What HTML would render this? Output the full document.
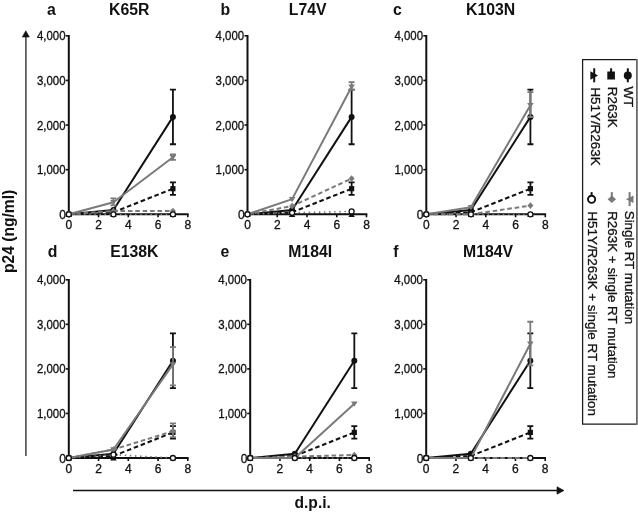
<!DOCTYPE html>
<html><head><meta charset="utf-8"><style>
html,body{margin:0;padding:0;background:#fff;}
svg{display:block;will-change:transform;}
text{font-family:"Liberation Sans", sans-serif;fill:#111;}
.yl,.xl,.lg{stroke:#111;stroke-width:0.3px;}
.t{font-size:15.8px;font-weight:bold;}
.big{font-size:15.6px;font-weight:bold;}
.yl{font-size:12px;text-anchor:end;}
.xl{font-size:12px;text-anchor:middle;}
.lg{font-size:13.4px;}
.ax{fill:none;stroke:#111;stroke-width:2;}
.tk{fill:none;stroke:#111;stroke-width:1.6;}
polyline{fill:none;stroke-width:2;stroke-linejoin:round;}
.l-sol-k{stroke:#111;}
.l-sol-g{stroke:#7a7a7a;}
.l-dash-k{stroke:#111;stroke-dasharray:4.6 2.8;}
.l-dash-g{stroke:#7a7a7a;stroke-dasharray:4.6 2.8;}
.l-dot-k{stroke:#111;stroke-dasharray:1.5 3.6;stroke-width:1.6;}
.l-dot-g{stroke:#7a7a7a;stroke-dasharray:1.5 3.6;stroke-width:1.6;}
</style></head><body>
<svg width="638" height="514" viewBox="0 0 638 514">

<path d="M25.9 37V456" stroke="#5e5e5e" stroke-width="1.8"/>
<path d="M25.8 30.8L29.3 37H22.3Z" fill="#111" stroke="#111" stroke-width="0.6" stroke-linejoin="round"/>
<path d="M73 490.5H558" stroke="#111" stroke-width="1.5"/>
<path d="M564 490.5L557 486.8V494.2Z" fill="#111" stroke="#111" stroke-width="0.6" stroke-linejoin="round"/>
<text transform="translate(13.8 231.4) rotate(-90)" class="big" text-anchor="middle">p24 (ng/ml)</text>
<text x="312.7" y="508.2" class="big" text-anchor="middle">d.p.i.</text>

<text x="47" y="15" class="t">a</text>
<text x="109" y="15" class="t">K65R</text>
<path d="M68.8 35V214.3H188.6" class="ax"/>
<path d="M65.8 214.3H68.8" class="tk"/>
<text x="66" y="218.8" class="yl">0</text>
<path d="M65.8 169.68H68.8" class="tk"/>
<text x="65.5" y="174.18" class="yl" textLength="28.6" lengthAdjust="spacingAndGlyphs">1,000</text>
<path d="M65.8 125.05H68.8" class="tk"/>
<text x="65.5" y="129.55" class="yl" textLength="28.6" lengthAdjust="spacingAndGlyphs">2,000</text>
<path d="M65.8 80.43H68.8" class="tk"/>
<text x="65.5" y="84.93" class="yl" textLength="28.6" lengthAdjust="spacingAndGlyphs">3,000</text>
<path d="M65.8 35.8H68.8" class="tk"/>
<text x="65.5" y="40.3" class="yl" textLength="28.6" lengthAdjust="spacingAndGlyphs">4,000</text>
<path d="M68.8 214.3V217.3" class="tk"/>
<text x="68.8" y="228.9" class="xl">0</text>
<path d="M98.55 214.3V217.3" class="tk"/>
<text x="98.55" y="228.9" class="xl">2</text>
<path d="M128.3 214.3V217.3" class="tk"/>
<text x="128.3" y="228.9" class="xl">4</text>
<path d="M158.05 214.3V217.3" class="tk"/>
<text x="158.05" y="228.9" class="xl">6</text>
<path d="M187.8 214.3V217.3" class="tk"/>
<text x="187.8" y="228.9" class="xl">8</text>
<polyline points="68.8,214.3 113.42,210.06 172.93,116.88" class="l-sol-k"/>
<path d="M172.93 144.24V89.53M169.93 144.24H175.93M169.93 89.53H175.93" stroke="#111" stroke-width="1.8" fill="none"/>
<circle cx="68.8" cy="214.3" r="3" fill="#111"/>
<circle cx="113.42" cy="210.06" r="3" fill="#111"/>
<circle cx="172.93" cy="116.88" r="3" fill="#111"/>
<polyline points="68.8,214.3 113.42,212.29 172.93,188.69" class="l-dash-k"/>
<path d="M172.93 194.8V182.3M169.93 194.8H175.93M169.93 182.3H175.93" stroke="#111" stroke-width="1.8" fill="none"/>
<rect x="66.2" y="211.7" width="5.2" height="5.2" fill="#111"/>
<rect x="110.83" y="209.69" width="5.2" height="5.2" fill="#111"/>
<rect x="170.33" y="186.09" width="5.2" height="5.2" fill="#111"/>
<polyline points="68.8,214.3 113.42,214.3 172.93,214.3" class="l-dot-k"/>
<path d="M65.6 216.9H72L68.8 211.3Z" fill="#111"/>
<path d="M110.22 216.9H116.62L113.42 211.3Z" fill="#111"/>
<path d="M169.73 216.9H176.12L172.93 211.3Z" fill="#111"/>
<polyline points="68.8,214.3 113.42,202.25 172.93,157.18" class="l-sol-g"/>
<path d="M113.42 205.38V198.46M110.42 205.38H116.42M110.42 198.46H116.42" stroke="#7a7a7a" stroke-width="1.8" fill="none"/>
<path d="M172.93 159.86V154.5M169.93 159.86H175.93M169.93 154.5H175.93" stroke="#7a7a7a" stroke-width="1.8" fill="none"/>
<path d="M65.5 212.1H72.1L68.8 217.3Z" fill="#7a7a7a"/>
<path d="M110.12 200.05H116.72L113.42 205.25Z" fill="#7a7a7a"/>
<path d="M169.62 154.98H176.23L172.93 160.18Z" fill="#7a7a7a"/>
<polyline points="68.8,214.3 113.42,210.95 172.93,210.95" class="l-dash-g"/>
<path d="M68.8 211L71.8 214.3L68.8 217.6L65.8 214.3Z" fill="#7a7a7a"/>
<path d="M113.42 207.65L116.42 210.95L113.42 214.25L110.42 210.95Z" fill="#7a7a7a"/>
<path d="M172.93 207.65L175.93 210.95L172.93 214.25L169.93 210.95Z" fill="#7a7a7a"/>
<polyline points="68.8,214.3 113.42,214.3 172.93,214.3" class="l-dot-g"/>
<circle cx="68.8" cy="214.3" r="2.5" fill="#fff" stroke="#111" stroke-width="1.3"/>
<circle cx="113.42" cy="214.3" r="2.5" fill="#fff" stroke="#111" stroke-width="1.3"/>
<circle cx="172.93" cy="214.3" r="2.5" fill="#fff" stroke="#111" stroke-width="1.3"/>
<text x="220.6" y="15" class="t">b</text>
<text x="288.8" y="15" class="t">L74V</text>
<path d="M247.5 35V214.3H367.3" class="ax"/>
<path d="M244.5 214.3H247.5" class="tk"/>
<text x="244.7" y="218.8" class="yl">0</text>
<path d="M244.5 169.68H247.5" class="tk"/>
<text x="244.2" y="174.18" class="yl" textLength="28.6" lengthAdjust="spacingAndGlyphs">1,000</text>
<path d="M244.5 125.05H247.5" class="tk"/>
<text x="244.2" y="129.55" class="yl" textLength="28.6" lengthAdjust="spacingAndGlyphs">2,000</text>
<path d="M244.5 80.43H247.5" class="tk"/>
<text x="244.2" y="84.93" class="yl" textLength="28.6" lengthAdjust="spacingAndGlyphs">3,000</text>
<path d="M244.5 35.8H247.5" class="tk"/>
<text x="244.2" y="40.3" class="yl" textLength="28.6" lengthAdjust="spacingAndGlyphs">4,000</text>
<path d="M247.5 214.3V217.3" class="tk"/>
<text x="247.5" y="228.9" class="xl">0</text>
<path d="M277.25 214.3V217.3" class="tk"/>
<text x="277.25" y="228.9" class="xl">2</text>
<path d="M307 214.3V217.3" class="tk"/>
<text x="307" y="228.9" class="xl">4</text>
<path d="M336.75 214.3V217.3" class="tk"/>
<text x="336.75" y="228.9" class="xl">6</text>
<path d="M366.5 214.3V217.3" class="tk"/>
<text x="366.5" y="228.9" class="xl">8</text>
<polyline points="247.5,214.3 292.12,210.06 351.62,116.88" class="l-sol-k"/>
<path d="M351.62 144.24V89.53M348.62 144.24H354.62M348.62 89.53H354.62" stroke="#111" stroke-width="1.8" fill="none"/>
<circle cx="247.5" cy="214.3" r="3" fill="#111"/>
<circle cx="292.12" cy="210.06" r="3" fill="#111"/>
<circle cx="351.62" cy="116.88" r="3" fill="#111"/>
<polyline points="247.5,214.3 292.12,212.29 351.62,188.69" class="l-dash-k"/>
<path d="M351.62 194.8V182.3M348.62 194.8H354.62M348.62 182.3H354.62" stroke="#111" stroke-width="1.8" fill="none"/>
<rect x="244.9" y="211.7" width="5.2" height="5.2" fill="#111"/>
<rect x="289.52" y="209.69" width="5.2" height="5.2" fill="#111"/>
<rect x="349.02" y="186.09" width="5.2" height="5.2" fill="#111"/>
<polyline points="247.5,214.3 292.12,214.3 351.62,214.3" class="l-dot-k"/>
<path d="M244.3 216.9H250.7L247.5 211.3Z" fill="#111"/>
<path d="M288.93 216.9H295.32L292.12 211.3Z" fill="#111"/>
<path d="M348.43 216.9H354.82L351.62 211.3Z" fill="#111"/>
<polyline points="247.5,214.3 292.12,199.13 351.62,86.67" class="l-sol-g"/>
<path d="M351.62 89.8V82.21M348.62 89.8H354.62M348.62 82.21H354.62" stroke="#7a7a7a" stroke-width="1.8" fill="none"/>
<path d="M244.2 212.1H250.8L247.5 217.3Z" fill="#7a7a7a"/>
<path d="M288.82 196.93H295.43L292.12 202.13Z" fill="#7a7a7a"/>
<path d="M348.32 84.47H354.93L351.62 89.67Z" fill="#7a7a7a"/>
<polyline points="247.5,214.3 292.12,206.04 351.62,178.6" class="l-dash-g"/>
<path d="M247.5 211L250.5 214.3L247.5 217.6L244.5 214.3Z" fill="#7a7a7a"/>
<path d="M292.12 202.74L295.12 206.04L292.12 209.34L289.12 206.04Z" fill="#7a7a7a"/>
<path d="M351.62 175.3L354.62 178.6L351.62 181.9L348.62 178.6Z" fill="#7a7a7a"/>
<polyline points="247.5,214.3 292.12,212.74 351.62,211.4" class="l-dot-g"/>
<circle cx="247.5" cy="214.3" r="2.5" fill="#fff" stroke="#111" stroke-width="1.3"/>
<circle cx="292.12" cy="212.74" r="2.5" fill="#fff" stroke="#111" stroke-width="1.3"/>
<circle cx="351.62" cy="211.4" r="2.5" fill="#fff" stroke="#111" stroke-width="1.3"/>
<text x="393" y="15" class="t">c</text>
<text x="466" y="15" class="t">K103N</text>
<path d="M426.3 35V214.3H546.1" class="ax"/>
<path d="M423.3 214.3H426.3" class="tk"/>
<text x="423.5" y="218.8" class="yl">0</text>
<path d="M423.3 169.68H426.3" class="tk"/>
<text x="423" y="174.18" class="yl" textLength="28.6" lengthAdjust="spacingAndGlyphs">1,000</text>
<path d="M423.3 125.05H426.3" class="tk"/>
<text x="423" y="129.55" class="yl" textLength="28.6" lengthAdjust="spacingAndGlyphs">2,000</text>
<path d="M423.3 80.43H426.3" class="tk"/>
<text x="423" y="84.93" class="yl" textLength="28.6" lengthAdjust="spacingAndGlyphs">3,000</text>
<path d="M423.3 35.8H426.3" class="tk"/>
<text x="423" y="40.3" class="yl" textLength="28.6" lengthAdjust="spacingAndGlyphs">4,000</text>
<path d="M426.3 214.3V217.3" class="tk"/>
<text x="426.3" y="228.9" class="xl">0</text>
<path d="M456.05 214.3V217.3" class="tk"/>
<text x="456.05" y="228.9" class="xl">2</text>
<path d="M485.8 214.3V217.3" class="tk"/>
<text x="485.8" y="228.9" class="xl">4</text>
<path d="M515.55 214.3V217.3" class="tk"/>
<text x="515.55" y="228.9" class="xl">6</text>
<path d="M545.3 214.3V217.3" class="tk"/>
<text x="545.3" y="228.9" class="xl">8</text>
<polyline points="426.3,214.3 470.93,210.06 530.42,116.88" class="l-sol-k"/>
<path d="M530.42 144.24V89.53M527.42 144.24H533.42M527.42 89.53H533.42" stroke="#111" stroke-width="1.8" fill="none"/>
<circle cx="426.3" cy="214.3" r="3" fill="#111"/>
<circle cx="470.93" cy="210.06" r="3" fill="#111"/>
<circle cx="530.42" cy="116.88" r="3" fill="#111"/>
<polyline points="426.3,214.3 470.93,212.29 530.42,188.69" class="l-dash-k"/>
<path d="M530.42 194.8V182.3M527.42 194.8H533.42M527.42 182.3H533.42" stroke="#111" stroke-width="1.8" fill="none"/>
<rect x="423.7" y="211.7" width="5.2" height="5.2" fill="#111"/>
<rect x="468.32" y="209.69" width="5.2" height="5.2" fill="#111"/>
<rect x="527.82" y="186.09" width="5.2" height="5.2" fill="#111"/>
<polyline points="426.3,214.3 470.93,214.3 530.42,214.3" class="l-dot-k"/>
<path d="M423.1 216.9H429.5L426.3 211.3Z" fill="#111"/>
<path d="M467.73 216.9H474.12L470.93 211.3Z" fill="#111"/>
<path d="M527.22 216.9H533.62L530.42 211.3Z" fill="#111"/>
<polyline points="426.3,214.3 470.93,207.16 530.42,105.19" class="l-sol-g"/>
<path d="M530.42 117.02V92.03M527.42 117.02H533.42M527.42 92.03H533.42" stroke="#7a7a7a" stroke-width="1.8" fill="none"/>
<path d="M423 212.1H429.6L426.3 217.3Z" fill="#7a7a7a"/>
<path d="M467.62 204.96H474.23L470.93 210.16Z" fill="#7a7a7a"/>
<path d="M527.12 102.99H533.72L530.42 108.19Z" fill="#7a7a7a"/>
<polyline points="426.3,214.3 470.93,214.3 530.42,205.6" class="l-dash-g"/>
<path d="M426.3 211L429.3 214.3L426.3 217.6L423.3 214.3Z" fill="#7a7a7a"/>
<path d="M470.93 211L473.93 214.3L470.93 217.6L467.93 214.3Z" fill="#7a7a7a"/>
<path d="M530.42 202.3L533.42 205.6L530.42 208.9L527.42 205.6Z" fill="#7a7a7a"/>
<polyline points="426.3,214.3 470.93,214.3 530.42,214.3" class="l-dot-g"/>
<circle cx="426.3" cy="214.3" r="2.5" fill="#fff" stroke="#111" stroke-width="1.3"/>
<circle cx="470.93" cy="214.3" r="2.5" fill="#fff" stroke="#111" stroke-width="1.3"/>
<circle cx="530.42" cy="214.3" r="2.5" fill="#fff" stroke="#111" stroke-width="1.3"/>
<text x="47.8" y="256.6" class="t">d</text>
<text x="110.2" y="256.6" class="t">E138K</text>
<path d="M68.8 279V458H188.6" class="ax"/>
<path d="M65.8 458H68.8" class="tk"/>
<text x="66" y="462.5" class="yl">0</text>
<path d="M65.8 413.45H68.8" class="tk"/>
<text x="65.5" y="417.95" class="yl" textLength="28.6" lengthAdjust="spacingAndGlyphs">1,000</text>
<path d="M65.8 368.9H68.8" class="tk"/>
<text x="65.5" y="373.4" class="yl" textLength="28.6" lengthAdjust="spacingAndGlyphs">2,000</text>
<path d="M65.8 324.35H68.8" class="tk"/>
<text x="65.5" y="328.85" class="yl" textLength="28.6" lengthAdjust="spacingAndGlyphs">3,000</text>
<path d="M65.8 279.8H68.8" class="tk"/>
<text x="65.5" y="284.3" class="yl" textLength="28.6" lengthAdjust="spacingAndGlyphs">4,000</text>
<path d="M68.8 458V461" class="tk"/>
<text x="68.8" y="473.3" class="xl">0</text>
<path d="M98.55 458V461" class="tk"/>
<text x="98.55" y="473.3" class="xl">2</text>
<path d="M128.3 458V461" class="tk"/>
<text x="128.3" y="473.3" class="xl">4</text>
<path d="M158.05 458V461" class="tk"/>
<text x="158.05" y="473.3" class="xl">6</text>
<path d="M187.8 458V461" class="tk"/>
<text x="187.8" y="473.3" class="xl">8</text>
<polyline points="68.8,458 113.42,453.77 172.93,360.75" class="l-sol-k"/>
<path d="M172.93 388.06V333.44M169.93 388.06H175.93M169.93 333.44H175.93" stroke="#111" stroke-width="1.8" fill="none"/>
<circle cx="68.8" cy="458" r="3" fill="#111"/>
<circle cx="113.42" cy="453.77" r="3" fill="#111"/>
<circle cx="172.93" cy="360.75" r="3" fill="#111"/>
<polyline points="68.8,458 113.42,456 172.93,432.43" class="l-dash-k"/>
<path d="M172.93 438.53V426.06M169.93 438.53H175.93M169.93 426.06H175.93" stroke="#111" stroke-width="1.8" fill="none"/>
<rect x="66.2" y="455.4" width="5.2" height="5.2" fill="#111"/>
<rect x="110.83" y="453.4" width="5.2" height="5.2" fill="#111"/>
<rect x="170.33" y="429.83" width="5.2" height="5.2" fill="#111"/>
<polyline points="68.8,458 113.42,458 172.93,458" class="l-dot-k"/>
<path d="M65.6 460.6H72L68.8 455Z" fill="#111"/>
<path d="M110.22 460.6H116.62L113.42 455Z" fill="#111"/>
<path d="M169.73 460.6H176.12L172.93 455Z" fill="#111"/>
<polyline points="68.8,458 113.42,449.54 172.93,364.44" class="l-sol-g"/>
<path d="M172.93 385.38V347.07M169.93 385.38H175.93M169.93 347.07H175.93" stroke="#7a7a7a" stroke-width="1.8" fill="none"/>
<path d="M65.5 455.8H72.1L68.8 461Z" fill="#7a7a7a"/>
<path d="M110.12 447.34H116.72L113.42 452.54Z" fill="#7a7a7a"/>
<path d="M169.62 362.25H176.23L172.93 367.44Z" fill="#7a7a7a"/>
<polyline points="68.8,458 113.42,449.54 172.93,431.27" class="l-dash-g"/>
<path d="M172.93 437.06V423.47M169.93 437.06H175.93M169.93 423.47H175.93" stroke="#7a7a7a" stroke-width="1.8" fill="none"/>
<path d="M68.8 454.7L71.8 458L68.8 461.3L65.8 458Z" fill="#7a7a7a"/>
<path d="M113.42 446.24L116.42 449.54L113.42 452.84L110.42 449.54Z" fill="#7a7a7a"/>
<path d="M172.93 427.97L175.93 431.27L172.93 434.57L169.93 431.27Z" fill="#7a7a7a"/>
<polyline points="68.8,458 113.42,454.66 172.93,458" class="l-dot-g"/>
<circle cx="68.8" cy="458" r="2.5" fill="#fff" stroke="#111" stroke-width="1.3"/>
<circle cx="113.42" cy="454.66" r="2.5" fill="#fff" stroke="#111" stroke-width="1.3"/>
<circle cx="172.93" cy="458" r="2.5" fill="#fff" stroke="#111" stroke-width="1.3"/>
<text x="220.6" y="256.6" class="t">e</text>
<text x="288.2" y="256.6" class="t">M184I</text>
<path d="M250.2 279V458H370" class="ax"/>
<path d="M247.2 458H250.2" class="tk"/>
<text x="247.4" y="462.5" class="yl">0</text>
<path d="M247.2 413.45H250.2" class="tk"/>
<text x="246.9" y="417.95" class="yl" textLength="28.6" lengthAdjust="spacingAndGlyphs">1,000</text>
<path d="M247.2 368.9H250.2" class="tk"/>
<text x="246.9" y="373.4" class="yl" textLength="28.6" lengthAdjust="spacingAndGlyphs">2,000</text>
<path d="M247.2 324.35H250.2" class="tk"/>
<text x="246.9" y="328.85" class="yl" textLength="28.6" lengthAdjust="spacingAndGlyphs">3,000</text>
<path d="M247.2 279.8H250.2" class="tk"/>
<text x="246.9" y="284.3" class="yl" textLength="28.6" lengthAdjust="spacingAndGlyphs">4,000</text>
<path d="M250.2 458V461" class="tk"/>
<text x="250.2" y="473.3" class="xl">0</text>
<path d="M279.95 458V461" class="tk"/>
<text x="279.95" y="473.3" class="xl">2</text>
<path d="M309.7 458V461" class="tk"/>
<text x="309.7" y="473.3" class="xl">4</text>
<path d="M339.45 458V461" class="tk"/>
<text x="339.45" y="473.3" class="xl">6</text>
<path d="M369.2 458V461" class="tk"/>
<text x="369.2" y="473.3" class="xl">8</text>
<polyline points="250.2,458 294.82,453.77 354.32,360.75" class="l-sol-k"/>
<path d="M354.32 388.06V333.44M351.32 388.06H357.32M351.32 333.44H357.32" stroke="#111" stroke-width="1.8" fill="none"/>
<circle cx="250.2" cy="458" r="3" fill="#111"/>
<circle cx="294.82" cy="453.77" r="3" fill="#111"/>
<circle cx="354.32" cy="360.75" r="3" fill="#111"/>
<polyline points="250.2,458 294.82,456 354.32,432.43" class="l-dash-k"/>
<path d="M354.32 438.53V426.06M351.32 438.53H357.32M351.32 426.06H357.32" stroke="#111" stroke-width="1.8" fill="none"/>
<rect x="247.6" y="455.4" width="5.2" height="5.2" fill="#111"/>
<rect x="292.22" y="453.4" width="5.2" height="5.2" fill="#111"/>
<rect x="351.72" y="429.83" width="5.2" height="5.2" fill="#111"/>
<polyline points="250.2,458 294.82,458 354.32,458" class="l-dot-k"/>
<path d="M247 460.6H253.4L250.2 455Z" fill="#111"/>
<path d="M291.62 460.6H298.02L294.82 455Z" fill="#111"/>
<path d="M351.12 460.6H357.52L354.32 455Z" fill="#111"/>
<polyline points="250.2,458 294.82,458 354.32,403.65" class="l-sol-g"/>
<path d="M246.9 455.8H253.5L250.2 461Z" fill="#7a7a7a"/>
<path d="M291.52 455.8H298.12L294.82 461Z" fill="#7a7a7a"/>
<path d="M351.02 401.45H357.62L354.32 406.65Z" fill="#7a7a7a"/>
<polyline points="250.2,458 294.82,456.66 354.32,454.97" class="l-dash-g"/>
<path d="M250.2 454.7L253.2 458L250.2 461.3L247.2 458Z" fill="#7a7a7a"/>
<path d="M294.82 453.36L297.82 456.66L294.82 459.96L291.82 456.66Z" fill="#7a7a7a"/>
<path d="M354.32 451.67L357.32 454.97L354.32 458.27L351.32 454.97Z" fill="#7a7a7a"/>
<polyline points="250.2,458 294.82,458 354.32,458" class="l-dot-g"/>
<circle cx="250.2" cy="458" r="2.5" fill="#fff" stroke="#111" stroke-width="1.3"/>
<circle cx="294.82" cy="458" r="2.5" fill="#fff" stroke="#111" stroke-width="1.3"/>
<circle cx="354.32" cy="458" r="2.5" fill="#fff" stroke="#111" stroke-width="1.3"/>
<text x="393.3" y="256.6" class="t">f</text>
<text x="463" y="256.6" class="t">M184V</text>
<path d="M426.2 279V458H546" class="ax"/>
<path d="M423.2 458H426.2" class="tk"/>
<text x="423.4" y="462.5" class="yl">0</text>
<path d="M423.2 413.45H426.2" class="tk"/>
<text x="422.9" y="417.95" class="yl" textLength="28.6" lengthAdjust="spacingAndGlyphs">1,000</text>
<path d="M423.2 368.9H426.2" class="tk"/>
<text x="422.9" y="373.4" class="yl" textLength="28.6" lengthAdjust="spacingAndGlyphs">2,000</text>
<path d="M423.2 324.35H426.2" class="tk"/>
<text x="422.9" y="328.85" class="yl" textLength="28.6" lengthAdjust="spacingAndGlyphs">3,000</text>
<path d="M423.2 279.8H426.2" class="tk"/>
<text x="422.9" y="284.3" class="yl" textLength="28.6" lengthAdjust="spacingAndGlyphs">4,000</text>
<path d="M426.2 458V461" class="tk"/>
<text x="426.2" y="473.3" class="xl">0</text>
<path d="M455.95 458V461" class="tk"/>
<text x="455.95" y="473.3" class="xl">2</text>
<path d="M485.7 458V461" class="tk"/>
<text x="485.7" y="473.3" class="xl">4</text>
<path d="M515.45 458V461" class="tk"/>
<text x="515.45" y="473.3" class="xl">6</text>
<path d="M545.2 458V461" class="tk"/>
<text x="545.2" y="473.3" class="xl">8</text>
<polyline points="426.2,458 470.82,453.77 530.33,360.75" class="l-sol-k"/>
<path d="M530.33 388.06V333.44M527.33 388.06H533.33M527.33 333.44H533.33" stroke="#111" stroke-width="1.8" fill="none"/>
<circle cx="426.2" cy="458" r="3" fill="#111"/>
<circle cx="470.82" cy="453.77" r="3" fill="#111"/>
<circle cx="530.33" cy="360.75" r="3" fill="#111"/>
<polyline points="426.2,458 470.82,456 530.33,432.43" class="l-dash-k"/>
<path d="M530.33 438.53V426.06M527.33 438.53H533.33M527.33 426.06H533.33" stroke="#111" stroke-width="1.8" fill="none"/>
<rect x="423.6" y="455.4" width="5.2" height="5.2" fill="#111"/>
<rect x="468.22" y="453.4" width="5.2" height="5.2" fill="#111"/>
<rect x="527.73" y="429.83" width="5.2" height="5.2" fill="#111"/>
<polyline points="426.2,458 470.82,458 530.33,458" class="l-dot-k"/>
<path d="M423 460.6H429.4L426.2 455Z" fill="#111"/>
<path d="M467.62 460.6H474.02L470.82 455Z" fill="#111"/>
<path d="M527.12 460.6H533.53L530.33 455Z" fill="#111"/>
<polyline points="426.2,458 470.82,458 530.33,343.68" class="l-sol-g"/>
<path d="M530.33 365.47V321.77M527.33 365.47H533.33M527.33 321.77H533.33" stroke="#7a7a7a" stroke-width="1.8" fill="none"/>
<path d="M422.9 455.8H429.5L426.2 461Z" fill="#7a7a7a"/>
<path d="M467.52 455.8H474.12L470.82 461Z" fill="#7a7a7a"/>
<path d="M527.03 341.48H533.62L530.33 346.68Z" fill="#7a7a7a"/>
<polyline points="426.2,458 470.82,458 530.33,458" class="l-dash-g"/>
<path d="M426.2 454.7L429.2 458L426.2 461.3L423.2 458Z" fill="#7a7a7a"/>
<path d="M470.82 454.7L473.82 458L470.82 461.3L467.82 458Z" fill="#7a7a7a"/>
<path d="M530.33 454.7L533.33 458L530.33 461.3L527.33 458Z" fill="#7a7a7a"/>
<polyline points="426.2,458 470.82,458 530.33,458" class="l-dot-g"/>
<circle cx="426.2" cy="458" r="2.5" fill="#fff" stroke="#111" stroke-width="1.3"/>
<circle cx="470.82" cy="458" r="2.5" fill="#fff" stroke="#111" stroke-width="1.3"/>
<circle cx="530.33" cy="458" r="2.5" fill="#fff" stroke="#111" stroke-width="1.3"/>

<path d="M636.7 59.5H582.6V424.1H636.7" fill="none" stroke="#1a1a1a" stroke-width="1.25"/>
<path d="M636.9 58.9V424.7" stroke="#6a6a6a" stroke-width="1.8"/>

<path d="M627.8 68.3V82.3" stroke="#111" stroke-width="2"/>
<circle cx="627.8" cy="75.5" r="4" fill="#111"/>
<path d="M611.1 68.3V73.5" stroke="#111" stroke-width="2"/>
<rect x="607.3" y="71.5" width="7.6" height="8" fill="#111"/>
<path d="M594.2 68.3V82.3" stroke="#111" stroke-width="2"/>
<path d="M598 75.5L590.4 71.2V79.8Z" fill="#111"/>
<path d="M629.6 192.1V206.1" stroke="#7a7a7a" stroke-width="2"/>
<path d="M625.9 199.3L633.5 195.5V203.1Z" fill="#7a7a7a"/>
<path d="M611.8 192.1V197.3" stroke="#7a7a7a" stroke-width="2"/>
<path d="M611.8 195.5L616 199.3L611.8 203.1L607.6 199.3Z" fill="#7a7a7a"/>
<path d="M591.6 192.1V197.3" stroke="#111" stroke-width="2"/>
<circle cx="591.6" cy="199.3" r="3.6" fill="#fff" stroke="#111" stroke-width="1.9"/>
<text transform="translate(624.4 86.4) rotate(90)" class="lg">WT</text>
<text transform="translate(607.7 86.8) rotate(90)" class="lg">R263K</text>
<text transform="translate(591 87.4) rotate(90)" class="lg">H51Y/R263K</text>
<text transform="translate(624.6 210.7) rotate(90)" class="lg">Single RT mutation</text>
<text transform="translate(607.8 211.2) rotate(90)" class="lg">R263K + single RT mutation</text>
<text transform="translate(587.5 211.4) rotate(90)" class="lg">H51Y/R263K + single RT mutation</text>
</svg>
</body></html>
